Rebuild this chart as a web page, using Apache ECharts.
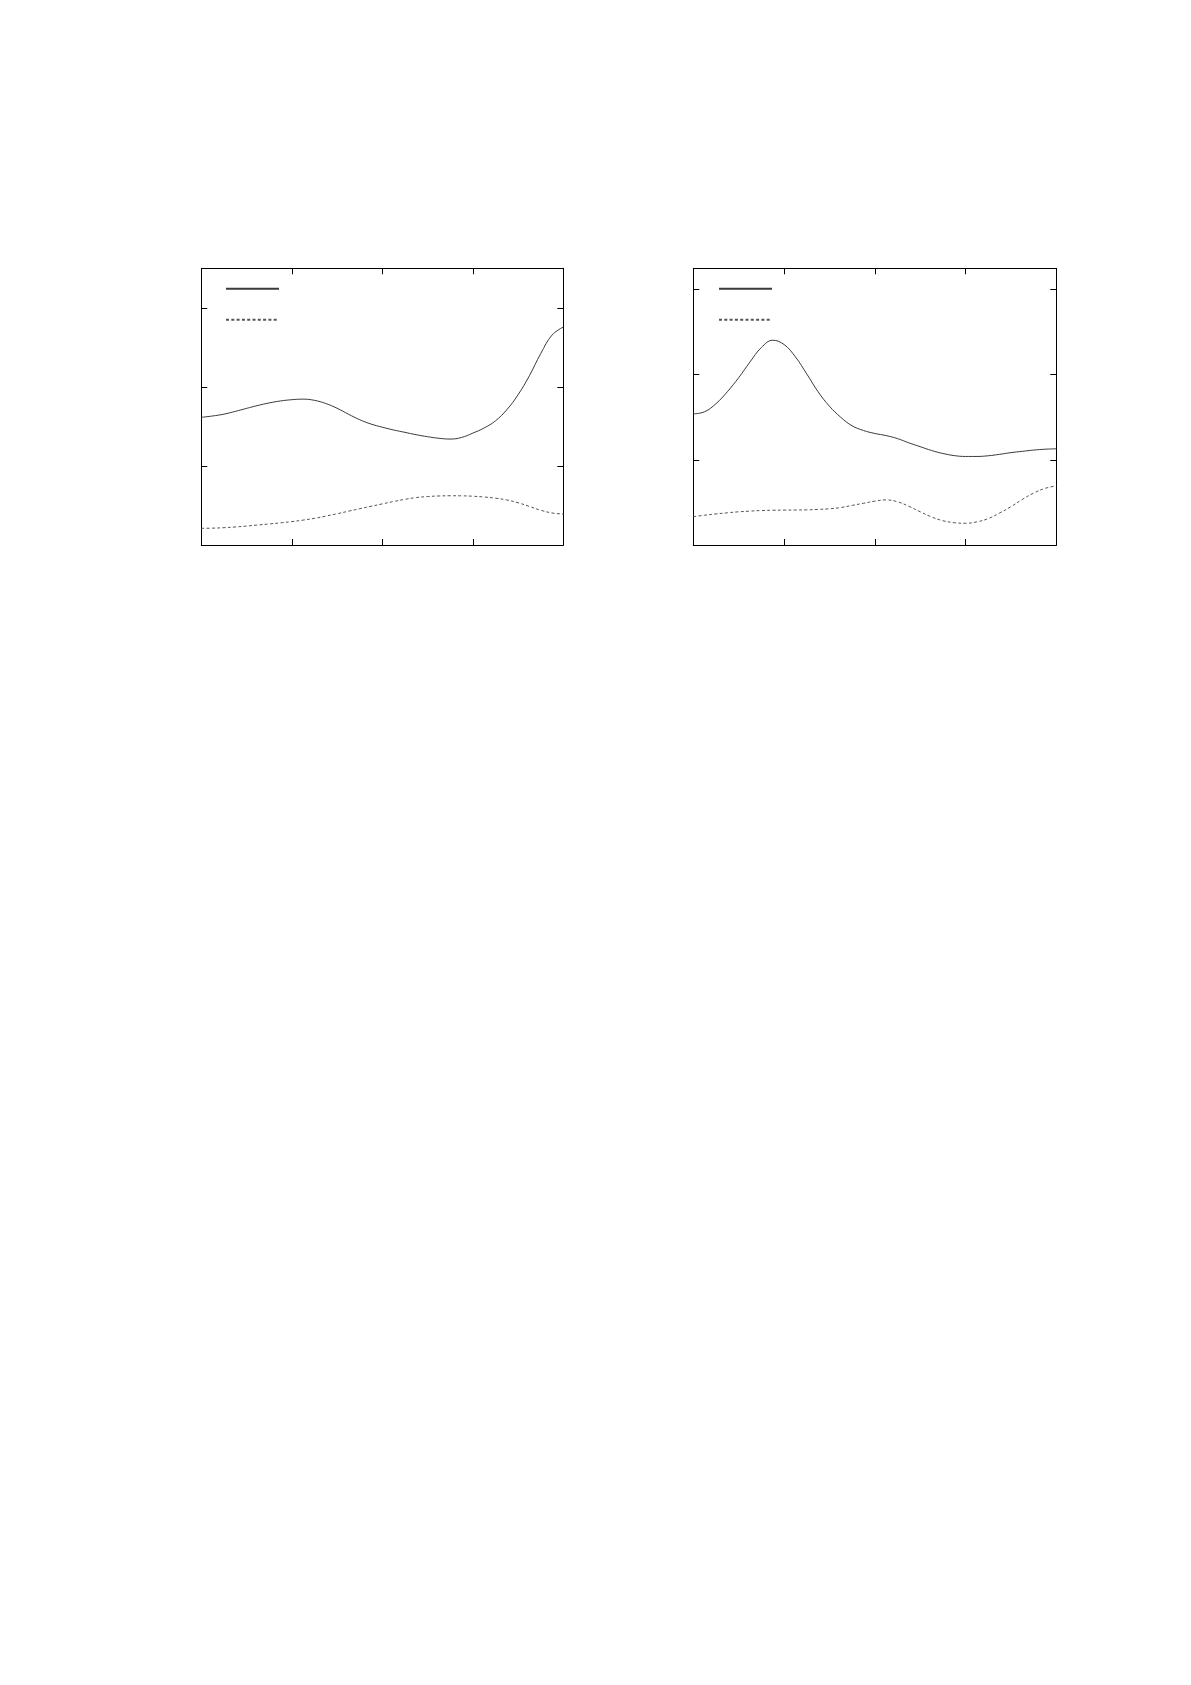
<!DOCTYPE html>
<html>
<head>
<meta charset="utf-8">
<script src="https://cdn.jsdelivr.net/npm/echarts@6/dist/echarts.min.js"></script>
<style>
html,body{margin:0;padding:0;background:#fff;}
#c{width:1191px;height:1685px;}
</style>
</head>
<body>
<div id="c"></div>
<script>
const xs = [0,0.125,0.25,0.375,0.5,0.625,0.75,0.875,1.0,1.125,1.25,1.375,1.5,1.625,1.75,1.875,2.0,
            2.125,2.25,2.375,2.5,2.625,2.75,2.875,3.0,3.125,3.25,3.375,3.5,3.625,3.75,3.875,4.0];
const leftSolid = [1.615,1.632,1.655,1.69,1.728,1.765,1.797,1.822,1.838,1.845,1.83,1.79,1.73,1.655,1.585,1.53,1.49,
                   1.455,1.425,1.395,1.37,1.35,1.34,1.36,1.415,1.48,1.57,1.71,1.90,2.14,2.42,2.655,2.757];
const leftDash = [0.211,0.213,0.219,0.228,0.24,0.253,0.266,0.28,0.296,0.315,0.337,0.365,0.395,0.427,0.459,0.49,0.52,
                  0.55,0.578,0.60,0.613,0.62,0.623,0.622,0.617,0.607,0.592,0.57,0.535,0.488,0.44,0.405,0.392];
const rightSolid = [1.54,1.565,1.66,1.80,1.965,2.15,2.32,2.405,2.355,2.21,2.01,1.80,1.63,1.50,1.40,1.345,1.31,
                    1.285,1.25,1.20,1.155,1.11,1.075,1.05,1.04,1.04,1.048,1.065,1.085,1.10,1.115,1.125,1.13];
const rightDash = [0.333,0.35,0.365,0.378,0.39,0.398,0.405,0.408,0.41,0.411,0.413,0.418,0.425,0.44,0.465,0.49,0.515,
                   0.53,0.508,0.455,0.39,0.33,0.285,0.262,0.255,0.272,0.31,0.375,0.45,0.535,0.61,0.665,0.695];
const xTicks = [0,1,2,3,4];
const leftYMax = 3.5, rightYMax = 3.25;

const pairs = (x, y) => x.map((v, i) => [v, y[i]]);

const chart = echarts.init(document.getElementById('c'), null, {renderer: 'canvas'});

function xAx(gi, pos) {
  return {
    type: 'value', gridIndex: gi, position: pos, min: xTicks[0], max: xTicks[xTicks.length-1], interval: 1,
    axisLine: {show: true, onZero: false, lineStyle: {color: '#000', width: 1}},
    axisTick: {show: true, inside: true, length: 6, lineStyle: {color: '#000', width: 1}},
    axisLabel: {show: false}, splitLine: {show: false}
  };
}
function yAx(gi, pos, max) {
  return {
    type: 'value', gridIndex: gi, position: pos, min: 0, max: max, interval: 1,
    axisLine: {show: true, onZero: false, lineStyle: {color: '#000', width: 1}},
    axisTick: {show: true, inside: true, length: 6, lineStyle: {color: '#000', width: 1}},
    axisLabel: {show: false}, splitLine: {show: false}
  };
}
function solid(name, xi, yi, data) {
  return {type: 'line', name: name, xAxisIndex: xi, yAxisIndex: yi, data: data, smooth: 0.4,
    symbol: 'none', lineStyle: {color: '#3a3a3a', width: 1, type: 'solid'}, itemStyle: {color: '#3a3a3a'}, silent: true, animation: false};
}
function dashed(name, xi, yi, data) {
  return {type: 'line', name: name, xAxisIndex: xi, yAxisIndex: yi, data: data, smooth: 0.4,
    symbol: 'none', lineStyle: {color: '#555', width: 1, type: [3, 2.3]}, itemStyle: {color: '#555'}, silent: true, animation: false};
}
function legend(names, left) {
  return {data: names, orient: 'vertical', left: left, top: 287.8, itemWidth: 53, itemHeight: 1, itemGap: 29,
    padding: 0, formatter: () => '', selectedMode: false, textStyle: {fontSize: 1},
    itemStyle: {opacity: 0}};
}

chart.setOption({
  animation: false,
  backgroundColor: '#fff',
  grid: [
    {left: 201.3, top: 268.3, width: 362, height: 276.7, containLabel: false},
    {left: 693.3, top: 268.3, width: 363, height: 276.7, containLabel: false}
  ],
  xAxis: [xAx(0, 'bottom'), xAx(0, 'top'), xAx(1, 'bottom'), xAx(1, 'top')],
  yAxis: [yAx(0, 'left', leftYMax), yAx(0, 'right', leftYMax), yAx(1, 'left', rightYMax), yAx(1, 'right', rightYMax)],
  legend: [legend(['L1', 'L2'], 225), legend(['R1', 'R2'], 718)],
  series: [
    solid('L1', 0, 0, pairs(xs, leftSolid)),
    dashed('L2', 0, 0, pairs(xs, leftDash)),
    solid('R1', 2, 2, pairs(xs, rightSolid)),
    dashed('R2', 2, 2, pairs(xs, rightDash))
  ]
});
</script>
</body>
</html>
